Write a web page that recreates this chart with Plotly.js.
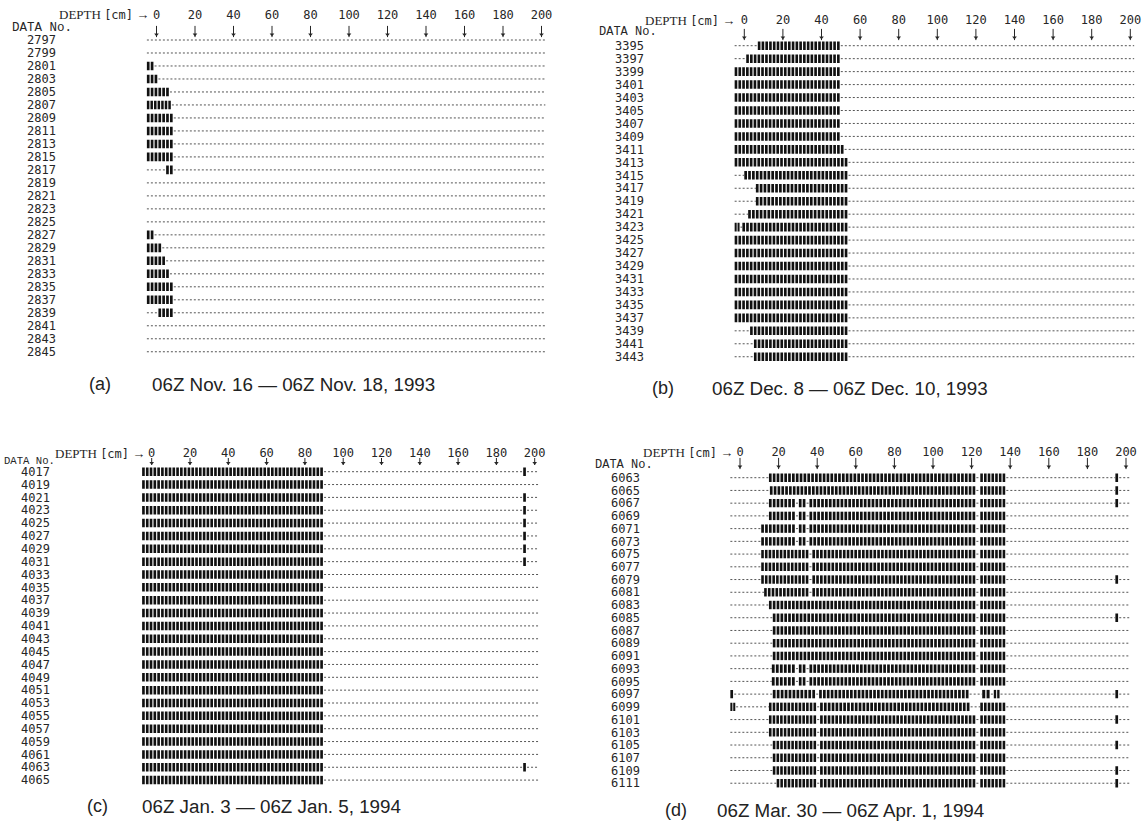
<!DOCTYPE html>
<html><head><meta charset="utf-8">
<script src="https://cdn.plot.ly/plotly-3.0.1.min.js"></script>
<style>html,body{margin:0;padding:0;background:#fff}#chart{width:1148px;height:823px}</style>
</head><body><div id="chart"></div>
<script>
// ---------------- data ----------------
const depthTicks = [0, 20, 40, 60, 80, 100, 120, 140, 160, 180, 200];
const depthTickText = ['0', '20', '40', '60', '80', '100', '120', '140', '160', '180', '200'];

const rowsA = [2797, 2799, 2801, 2803, 2805, 2807, 2809, 2811, 2813, 2815, 2817, 2819, 2821, 2823, 2825, 2827, 2829, 2831, 2833, 2835, 2837, 2839, 2841, 2843, 2845];
const segA = [
  [], [], [[-5, -1]], [[-5, 1]], [[-5, 7]], [[-5, 8]], [[-5, 9]], [[-5, 9]], [[-5, 9]], [[-5, 9]],
  [[5, 9]], [], [], [], [], [[-5, -1]], [[-5, 3]], [[-5, 5]], [[-5, 7]], [[-5, 9]],
  [[-5, 9]], [[1, 9]], [], [], []
];

const rowsB = [3395, 3397, 3399, 3401, 3403, 3405, 3407, 3409, 3411, 3413, 3415, 3417, 3419, 3421, 3423, 3425, 3427, 3429, 3431, 3433, 3435, 3437, 3439, 3441, 3443];
const segB = [
  [[7, 50]], [[1, 50]], [[-5, 50]], [[-5, 50]], [[-5, 50]], [[-5, 50]], [[-5, 50]], [[-5, 50]],
  [[-5, 52]], [[-5, 54]], [[0, 54]], [[6, 54]], [[6, 54]], [[2, 54]], [[-5, -2], [-1, 54]],
  [[-5, 54]], [[-5, 54]], [[-5, 54]], [[-5, 54]], [[-5, 54]], [[-5, 54]], [[-5, 54]],
  [[3, 54]], [[5, 54]], [[5, 54]]
];

const rowsC = [4017, 4019, 4021, 4023, 4025, 4027, 4029, 4031, 4033, 4035, 4037, 4039, 4041, 4043, 4045, 4047, 4049, 4051, 4053, 4055, 4057, 4059, 4061, 4063, 4065];
const segC = [
  [[-5, 90], [194, 196]], [[-5, 90]], [[-5, 90], [194, 196]], [[-5, 90], [194, 196]],
  [[-5, 90], [194, 196]], [[-5, 90], [194, 196]], [[-5, 90], [194, 196]], [[-5, 90], [194, 196]],
  [[-5, 90]], [[-5, 90]], [[-5, 90]], [[-5, 90]], [[-5, 90]], [[-5, 90]], [[-5, 90]], [[-5, 90]],
  [[-5, 90]], [[-5, 90]], [[-5, 90]], [[-5, 90]], [[-5, 90]], [[-5, 90]], [[-5, 90]],
  [[-5, 90], [194, 196]], [[-5, 90]]
];

const rowsD = [6063, 6065, 6067, 6069, 6071, 6073, 6075, 6077, 6079, 6081, 6083, 6085, 6087, 6089, 6091, 6093, 6095, 6097, 6099, 6101, 6103, 6105, 6107, 6109, 6111];
const segD = [
  [[15, 122.5], [124.5, 138], [194.5, 196.5]],
  [[15.5, 122.5], [124.5, 138], [194.5, 196.5]],
  [[15, 29], [30.5, 34.5], [36, 122.5], [124.5, 138], [194.5, 196.5]],
  [[15, 29], [30.5, 34.5], [36, 122.5], [124.5, 138]],
  [[11, 29], [30.5, 34.5], [36, 122.5], [124.5, 138]],
  [[11, 29], [30.5, 34.5], [36, 122.5], [124.5, 138]],
  [[11, 36], [37.5, 122.5], [124.5, 138]],
  [[11, 36], [37.5, 122.5], [124.5, 138]],
  [[11, 36], [37.5, 122.5], [124.5, 138], [194.5, 196.5]],
  [[12.5, 36], [37.5, 122.5], [124.5, 138]],
  [[15, 122.5], [124.5, 138]],
  [[17, 122.5], [124.5, 138], [194.5, 196.5]],
  [[17, 122.5], [124.5, 138]],
  [[17, 122.5], [124.5, 138]],
  [[17, 122.5], [124.5, 138]],
  [[16.5, 29], [30.5, 34.5], [36, 122.5], [124.5, 138]],
  [[16.5, 29], [30.5, 34.5], [36, 122.5], [124.5, 138]],
  [[-5, -3], [17, 39.5], [41, 119], [125.5, 130], [131.5, 135], [194.5, 196.5]],
  [[-5, -2], [15, 40], [41.5, 119.5], [124.5, 138]],
  [[15, 40], [41.5, 122.5], [124.5, 138], [194.5, 196.5]],
  [[15, 40], [41.5, 122.5], [124.5, 138]],
  [[17, 40], [41.5, 122.5], [124.5, 138], [194.5, 196.5]],
  [[17, 40], [41.5, 122.5], [124.5, 138]],
  [[17, 40], [41.5, 122.5], [124.5, 138], [194.5, 196.5]],
  [[19, 40], [41.5, 122.5], [124.5, 138], [194.5, 196.5]]
];

const panelLetters = ['(a)', '(b)', '(c)', '(d)'];
const captions = [
  '06Z Nov. 16 \u2014 06Z Nov. 18, 1993',
  '06Z Dec. 8 \u2014 06Z Dec. 10, 1993',
  '06Z Jan. 3 \u2014 06Z Jan. 5, 1994',
  '06Z Mar. 30 \u2014 06Z Apr. 1, 1994'
];
const lineStart = -5, lineEnd = 202;

// ---------------- layout geometry (pixels) ----------------
const W = 1148, H = 823;
const geo = [
  {rows: rowsA, segs: segA, x0: 156.5, s: 1.925, y0: 40.0, dy: 12.99, labR: 56, numY: 15, arrY: 31.5, arrL: 8, depR: 151, depY: 15, dataL: 10, dataY: 28, dataF: 12.5, capL: 150, capY: 384, letX: 100},
  {rows: rowsB, segs: segB, x0: 744.3, s: 1.930, y0: 45.7, dy: 12.96, labR: 644, numY: 20.5, arrY: 34.5, arrL: 8, depR: 737, depY: 20.5, dataL: 597, dataY: 32, dataF: 12, capL: 710, capY: 388, letX: 663},
  {rows: rowsC, segs: segC, x0: 151.7, s: 1.915, y0: 471.7, dy: 12.85, labR: 50, numY: 453, arrY: 461.5, arrL: 5, depR: 147, depY: 453, dataL: 2, dataY: 461, dataF: 10.6, capL: 140, capY: 806, letX: 97},
  {rows: rowsD, segs: segD, x0: 740.0, s: 1.930, y0: 477.7, dy: 12.73, labR: 640, numY: 452.7, arrY: 463.5, arrL: 8, depR: 735, depY: 452.7, dataL: 593, dataY: 465, dataF: 12, capL: 715, capY: 810, letX: 676}
];

const traces = [];
const layout = {
  width: W, height: H, margin: {l: 0, r: 0, t: 0, b: 0},
  paper_bgcolor: '#fff', plot_bgcolor: 'rgba(0,0,0,0)',
  showlegend: false, barmode: 'overlay', annotations: []
};
const mono = 'DejaVu Sans Mono, Liberation Mono, monospace';
const ink = '#262626';
const TOPROW = -2; // extra room above the first row for the depth arrows

geo.forEach((g, p) => {
  const sfx = p === 0 ? '' : String(p + 1);
  const xa = 'x' + sfx, ya = 'y' + sfx;
  const lx = [], ly = [];
  const bx = [], bbase = [], by = [];
  g.segs.forEach((segs, i) => {
    let cur = lineStart;
    const sorted = segs.slice().sort((a, b) => a[0] - b[0]);
    sorted.forEach(([s0, s1]) => {
      if (s0 > cur) { lx.push(cur, s0, null); ly.push(i, i, null); }
      cur = Math.max(cur, s1);
      const n = Math.max(1, Math.round((s1 - s0) / 2));
      const w = (s1 - s0) / n;
      for (let k = 0; k < n; k++) { bbase.push(s0 + k * w); bx.push(w * 0.7); by.push(i); }
    });
    if (cur < lineEnd) { lx.push(cur, lineEnd, null); ly.push(i, i, null); }
  });
  // dotted baseline of each row
  traces.push({type: 'scatter', mode: 'lines', x: lx, y: ly, xaxis: xa, yaxis: ya,
    line: {color: '#555', width: 1, dash: '2px,2px'}, hoverinfo: 'skip'});
  // block cells
  traces.push({type: 'bar', orientation: 'h', x: bx, base: bbase, y: by, xaxis: xa, yaxis: ya,
    width: 0.66, marker: {color: '#111', line: {width: 0}}, hoverinfo: 'skip'});
  // depth arrows below the tick numbers
  const yArr = (g.arrY - g.y0) / g.dy;
  const yHead = (g.arrY + g.arrL / 2 - 1 - g.y0) / g.dy;
  traces.push({type: 'scatter', mode: 'markers', x: depthTicks, y: depthTicks.map(() => yArr),
    xaxis: xa, yaxis: ya, cliponaxis: false, hoverinfo: 'skip',
    marker: {symbol: 'line-ns', size: g.arrL, color: ink, line: {color: ink, width: 1}}});
  traces.push({type: 'scatter', mode: 'markers', x: depthTicks, y: depthTicks.map(() => yHead),
    xaxis: xa, yaxis: ya, cliponaxis: false, hoverinfo: 'skip',
    marker: {symbol: 'triangle-down', size: 4, color: ink, line: {width: 0}}});

  const xL = g.x0 - 10 * g.s, xR = g.x0 + 205 * g.s;
  const yTop = g.y0 + TOPROW * g.dy, yBot = g.y0 + 25 * g.dy;
  layout['xaxis' + sfx] = {
    domain: [xL / W, xR / W], range: [-10, 205], anchor: 'free', position: 1 - (g.numY + 6) / H,
    side: 'top', tickvals: depthTicks, ticktext: depthTickText,
    ticks: '', showgrid: false, zeroline: false, showline: false, fixedrange: true,
    tickfont: {family: mono, size: 12, color: ink}
  };
  layout['yaxis' + sfx] = {
    domain: [1 - yBot / H, 1 - yTop / H], range: [25, TOPROW], anchor: 'free', position: g.labR / W,
    tickvals: g.rows.map((_, i) => i), ticktext: g.rows.map(String),
    ticks: '', showgrid: false, zeroline: false, showline: false, fixedrange: true,
    tickfont: {family: mono, size: 12, color: ink}
  };
  layout.annotations.push(
    {xref: 'paper', yref: 'paper', x: g.depR / W, y: 1 - g.depY / H, xanchor: 'right', yanchor: 'middle',
      text: 'DEPTH <span style="font-family:DejaVu Sans Mono;font-size:12px">[cm]</span> \u2192', showarrow: false,
      font: {family: 'Liberation Serif, serif', size: 13, color: ink}},
    {xref: 'paper', yref: 'paper', x: g.dataL / W, y: 1 - g.dataY / H, xanchor: 'left', yanchor: 'middle',
      text: 'DATA No.', showarrow: false, font: {family: 'Liberation Mono, monospace', size: g.dataF, color: ink}},
    {xref: 'paper', yref: 'paper', x: g.letX / W, y: 1 - g.capY / H, xanchor: 'center', yanchor: 'middle',
      text: panelLetters[p], showarrow: false, font: {family: 'Liberation Sans, Arial, sans-serif', size: 18, color: '#222'}},
    {xref: 'paper', yref: 'paper', x: g.capL / W, y: 1 - g.capY / H, xanchor: 'left', yanchor: 'middle',
      text: captions[p], showarrow: false, font: {family: 'Liberation Sans, Arial, sans-serif', size: 18.8, color: '#222'}}
  );
});

Plotly.newPlot('chart', traces, layout, {displayModeBar: false, staticPlot: true});
</script>
</body></html>
